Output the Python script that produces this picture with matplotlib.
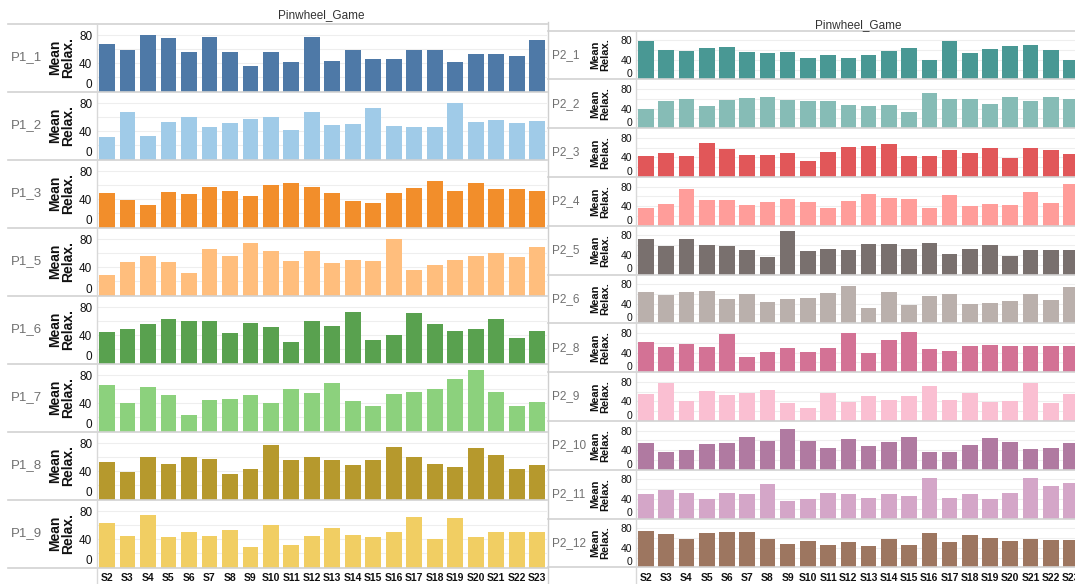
import matplotlib
matplotlib.use("Agg")
import matplotlib.pyplot as plt
from matplotlib.lines import Line2D

sessions = ["S2", "S3", "S4", "S5", "S6", "S7", "S8", "S9", "S10", "S11", "S12",
            "S13", "S14", "S15", "S16", "S17", "S18", "S19", "S20", "S21", "S22", "S23"]

# Mean relaxation per session, first group of participants
p1_1 = [68, 59, 80, 77, 56, 78, 56, 36, 56, 42, 78, 44, 59, 47, 47, 59, 59, 42, 54, 53, 51, 74]
p1_2 = [32, 68, 34, 54, 61, 46, 52, 58, 60, 42, 68, 49, 51, 74, 48, 46, 46, 80, 54, 56, 52, 55]
p1_3 = [49, 39, 32, 51, 48, 58, 52, 45, 61, 64, 58, 49, 38, 35, 49, 57, 67, 52, 63, 55, 55, 52]
p1_5 = [29, 48, 57, 48, 32, 67, 57, 75, 64, 49, 63, 46, 51, 49, 80, 36, 44, 51, 57, 61, 55, 69]
p1_6 = [45, 49, 57, 63, 60, 60, 43, 58, 52, 31, 60, 54, 73, 33, 40, 72, 57, 46, 49, 64, 37, 46]
p1_7 = [66, 40, 64, 52, 24, 45, 46, 52, 40, 60, 55, 69, 43, 37, 54, 57, 60, 75, 88, 57, 37, 42]
p1_8 = [54, 39, 61, 51, 60, 58, 37, 43, 78, 57, 61, 57, 49, 57, 75, 60, 51, 46, 73, 63, 43, 49]
p1_9 = [63, 45, 75, 44, 50, 45, 54, 29, 60, 32, 45, 57, 47, 44, 50, 72, 41, 71, 44, 51, 51, 51]

# second group
p2_1 = [79, 60, 58, 65, 67, 56, 54, 56, 44, 50, 44, 50, 58, 65, 40, 79, 54, 63, 69, 71, 60, 40]
p2_2 = [39, 56, 60, 46, 58, 62, 64, 58, 56, 56, 48, 46, 48, 33, 72, 60, 60, 50, 64, 56, 64, 60]
p2_3 = [42, 50, 42, 69, 57, 44, 44, 48, 32, 52, 61, 63, 67, 42, 42, 55, 50, 59, 38, 59, 55, 46]
p2_4 = [36, 45, 75, 53, 53, 43, 49, 55, 49, 36, 51, 65, 57, 55, 36, 63, 40, 45, 43, 69, 47, 86]
p2_5 = [72, 58, 72, 60, 58, 50, 35, 89, 48, 52, 50, 62, 62, 52, 64, 43, 52, 60, 37, 50, 50, 50]
p2_6 = [65, 58, 65, 67, 50, 60, 44, 50, 52, 63, 77, 31, 65, 38, 56, 60, 40, 42, 46, 60, 48, 75]
p2_8 = [61, 51, 57, 51, 78, 30, 41, 49, 41, 49, 80, 39, 66, 82, 47, 43, 53, 55, 53, 53, 53, 53]
p2_9 = [55, 78, 41, 61, 53, 57, 63, 37, 26, 57, 39, 51, 43, 51, 72, 43, 57, 39, 41, 78, 37, 55]
p2_10 = [54, 36, 40, 52, 54, 66, 58, 83, 58, 44, 62, 48, 56, 68, 36, 36, 50, 64, 56, 42, 44, 54]
p2_11 = [51, 59, 53, 40, 53, 51, 71, 36, 40, 53, 51, 43, 51, 47, 82, 43, 51, 40, 53, 82, 67, 73]
p2_12 = [75, 69, 57, 71, 73, 73, 57, 47, 53, 45, 51, 43, 59, 45, 71, 51, 67, 61, 53, 57, 55, 55]

group1_names = ["P1_1", "P1_2", "P1_3", "P1_5", "P1_6", "P1_7", "P1_8", "P1_9"]
group1_values = [p1_1, p1_2, p1_3, p1_5, p1_6, p1_7, p1_8, p1_9]
group2_names = ["P2_1", "P2_2", "P2_3", "P2_4", "P2_5", "P2_6", "P2_8", "P2_9",
                "P2_10", "P2_11", "P2_12"]
group2_values = [p2_1, p2_2, p2_3, p2_4, p2_5, p2_6, p2_8, p2_9, p2_10, p2_11, p2_12]

group1_colors = ["#4E79A7", "#A0CBE8", "#F28E2B", "#FFBE7D", "#59A14F", "#8CD17D",
                 "#B6992D", "#F1CE63"]
group2_colors = ["#499894", "#86BCB6", "#E15759", "#FF9D9A", "#79706E", "#BAB0AC",
                 "#D37295", "#FABFD2", "#B07AA1", "#D4A6C8", "#9D7660"]

W, H = 1075, 584
SANS = ["Liberation Sans", "DejaVu Sans"]
LINE = "#d2d2d2"


def px_axes(fig, left, top, right, bottom):
    return fig.add_axes([left / W, 1 - bottom / H, (right - left) / W, (bottom - top) / H])


def fig_line(fig, xs, ys, color=LINE, lw=1.2):
    fig.add_artist(Line2D([x / W for x in xs], [1 - y / H for y in ys],
                          transform=fig.transFigure, color=color, lw=lw))


def draw_panel(fig, names, values, colors, top, row_h, axis_x, right, xlim, ymax,
               title_xy, label_x, measure_x, panel_left, tick_size, name_size, measure_size):
    fig.text(title_xy[0] / W, 1 - title_xy[1] / H, "Pinwheel_Game", ha="center", va="center",
             fontsize=8.5, color="#333333", family=SANS)
    fig_line(fig, [panel_left, right], [top, top])
    n = len(values)
    for i, (name, vals, color) in enumerate(zip(names, values, colors)):
        t = top + i * row_h
        b = t + row_h
        ax = px_axes(fig, axis_x, t, right, b)
        ax.bar(range(len(sessions)), vals, width=0.77, color=color, zorder=2)
        ax.set_xlim(*xlim)
        ax.set_ylim(0, ymax)
        ax.set_yticks([0, 40, 80])
        ax.set_yticks([20, 60], minor=True)
        ax.grid(axis="y", which="both", color="#eeeeee", lw=0.8)
        ax.set_axisbelow(True)
        for side in ("top", "right", "bottom", "left"):
            ax.spines[side].set_visible(False)
        ax.tick_params(axis="y", which="both", length=0, pad=3, labelsize=tick_size,
                       labelcolor="#111111")
        for lbl in ax.get_yticklabels():
            lbl.set_family(SANS)
        ax.yaxis.get_major_ticks()[0].label1.set_va("bottom")
        if i == n - 1:
            ax.set_xticks(range(len(sessions)), sessions)
            ax.tick_params(axis="x", length=0, pad=4, labelsize=7.5, labelcolor="#111111")
            for lbl in ax.get_xticklabels():
                lbl.set_family(SANS)
                lbl.set_fontweight("bold")
        else:
            ax.set_xticks([])
        yc = 1 - (t + row_h / 2) / H
        fig.text(label_x / W, yc, name, ha="left", va="center", fontsize=name_size,
                 color="#707070", family=SANS)
        fig.text(measure_x / W, yc, "Mean\nRelax.", ha="center", va="center", rotation=90,
                 fontsize=measure_size, fontweight="bold", color="#111111", family=SANS,
                 linespacing=0.95)
        fig_line(fig, [panel_left, right], [b, b])
    # value axis rule running down through the session labels
    fig_line(fig, [axis_x, axis_x], [top, H], color="#d8d8d8", lw=1.0)


fig = plt.figure(figsize=(W / 100, H / 100), dpi=100)
fig.patch.set_facecolor("white")

draw_panel(fig, group1_names, group1_values, group1_colors,
           top=23.5, row_h=68.0, axis_x=96.5, right=546.5, xlim=(-0.51, 21.45), ymax=97,
           title_xy=(321.5, 15), label_x=11, measure_x=61.5, panel_left=8,
           tick_size=8.5, name_size=9.5, measure_size=10)

draw_panel(fig, group2_names, group2_values, group2_colors,
           top=30.5, row_h=48.8, axis_x=636.3, right=1075, xlim=(-0.48, 21.2), ymax=100,
           title_xy=(858, 25.5), label_x=552, measure_x=600.5, panel_left=548,
           tick_size=7.5, name_size=8.5, measure_size=8)

# divider between the two sheets
fig_line(fig, [547.5, 547.5], [22, H], color="#cfcfcf", lw=1.0)

fig.savefig("out.png", dpi=100, facecolor="white")
